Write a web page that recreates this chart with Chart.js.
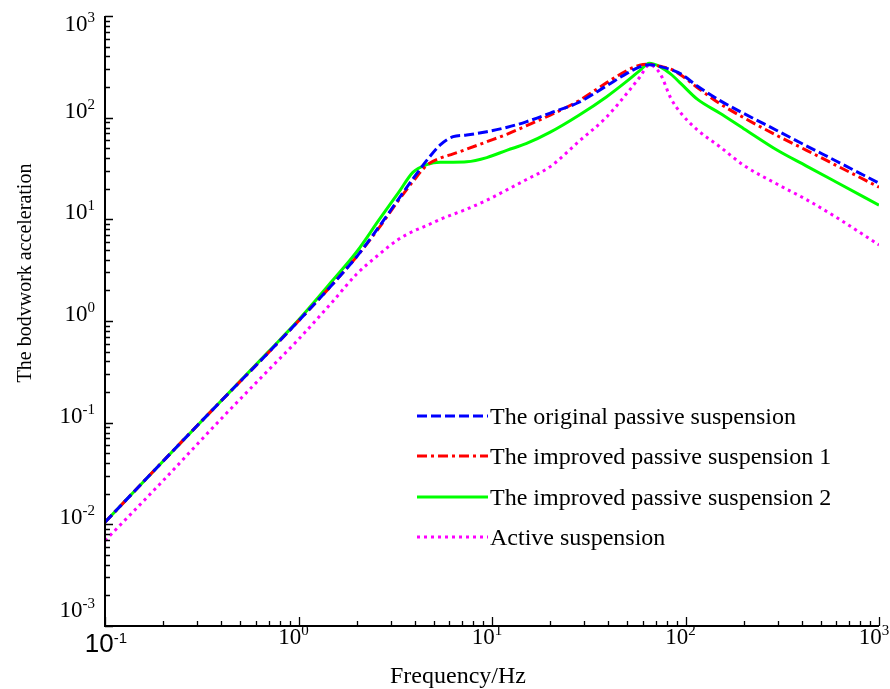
<!DOCTYPE html>
<html>
<head>
<meta charset="utf-8">
<script src="https://cdn.jsdelivr.net/npm/chart.js@4"></script>
<style>
  body { margin: 0; background: #fff; }
  canvas { display: block; }
</style>
</head>
<body>
<canvas id="chart" width="890" height="689"></canvas>
<script>
// frequency grid (Hz) shared by all curves
var freq = [0.1, 0.2, 0.4, 0.7, 1, 1.5, 2, 2.6, 3.3, 3.9, 4.6, 5.4, 6.3, 7.4, 9.4, 12, 15, 20, 28, 39, 50, 58, 65, 74, 84, 95, 115, 150, 200, 300, 420, 600, 1000];

// body acceleration
var originalPassive = [0.0105, 0.042, 0.165, 0.49, 1.0, 2.3, 4.3, 8.4, 16, 25, 38, 54, 65, 67.5, 72.7, 80.5, 91, 111, 141, 205, 274, 316, 332, 318, 297, 268, 205, 148, 110, 74, 53, 37.5, 22.7];
var improvedPassive1 = [0.0105, 0.042, 0.165, 0.49, 1.0, 2.3, 4.3, 8.2, 15.5, 23.5, 34, 40, 44, 49, 58, 69, 83, 106, 146, 220, 292, 328, 336, 320, 300, 262, 198, 138, 100, 66, 48, 34, 20.7];
var improvedPassive2 = [0.0105, 0.042, 0.165, 0.5, 1.02, 2.5, 4.8, 9.8, 18.5, 29, 34.5, 36.5, 36.5, 36.8, 40.5, 48, 55.5, 72, 105, 160, 230, 290, 342, 316, 268, 215, 152, 111, 78, 47.5, 33.6, 23.3, 13.8];
var activeSusp = [0.0069, 0.027, 0.11, 0.33, 0.66, 1.55, 2.9, 4.5, 6.4, 7.6, 8.7, 10, 11.2, 12.6, 15.4, 19.6, 24.5, 33, 58, 101, 175, 250, 330, 270, 155, 110, 76, 52, 34, 22, 15.7, 10.5, 5.6];

var seriesNames = ["The original passive suspension", "The improved passive suspension 1", "The improved passive suspension 2", "Active suspension"];
var seriesColors = ["#0000ff", "#ff0000", "#00ff00", "#ff00ff"];
var seriesDash = [[10, 4], [10, 4, 3, 4], [], [3, 4]];

var xDecades = [-1, 0, 1, 2, 3];
var yDecades = [-3, -2, -1, 0, 1, 2, 3];
var xTitle = "Frequency/Hz";
var yTitle = "The bodvwork acceleration";

function toPoints(arr) {
    return freq.map(function (f, i) { return { x: f, y: arr[i] }; });
}

var allSeries = [originalPassive, improvedPassive1, improvedPassive2, activeSusp];
var datasets = [];
for (var i = 0; i < allSeries.length; i++) {
    datasets.push({
        label: seriesNames[i],
        data: toPoints(allSeries[i]),
        borderColor: seriesColors[i],
        borderDash: seriesDash[i],
        borderWidth: 3,
        pointRadius: 0,
        fill: false,
        cubicInterpolationMode: "monotone"
    });
}

var serif = "'Liberation Serif', 'Times New Roman', serif";
var sans = "'Liberation Sans', Arial, sans-serif";

// draw "10" with a raised exponent
function drawPow(ctx, exp, x, y, align, baseFont, expFont) {
    ctx.font = baseFont;
    var w1 = ctx.measureText("10").width;
    ctx.font = expFont;
    var w2 = ctx.measureText(String(exp)).width;
    var left = x;
    if (align == "right") left = x - w1 - w2;
    if (align == "center") left = x - (w1 + w2) / 2;
    ctx.textAlign = "left";
    ctx.textBaseline = "alphabetic";
    ctx.font = baseFont;
    ctx.fillText("10", left, y);
    ctx.font = expFont;
    ctx.fillText(String(exp), left + w1, y - 9);
}

var axesPlugin = {
    id: "axesPlugin",
    afterDatasetsDraw: function (chart) {
        var ctx = chart.ctx;
        var xs = chart.scales.x, ys = chart.scales.y;
        var area = chart.chartArea;
        ctx.save();
        ctx.strokeStyle = "#000";
        ctx.fillStyle = "#000";

        // axis lines (left and bottom only)
        ctx.lineWidth = 2;
        ctx.beginPath();
        ctx.moveTo(area.left, area.top);
        ctx.lineTo(area.left, area.bottom);
        ctx.lineTo(area.right, area.bottom);
        ctx.stroke();

        // ticks, pointing inward
        ctx.lineWidth = 1.3;
        ctx.beginPath();
        for (var d = 0; d < xDecades.length; d++) {
            var px = Math.round(xs.getPixelForValue(Math.pow(10, xDecades[d]))) + 0.5;
            ctx.moveTo(px, area.bottom);
            ctx.lineTo(px, area.bottom - 9);
            if (d < xDecades.length - 1) {
                for (var m = 2; m <= 9; m++) {
                    var mx = Math.round(xs.getPixelForValue(m * Math.pow(10, xDecades[d]))) + 0.5;
                    ctx.moveTo(mx, area.bottom);
                    ctx.lineTo(mx, area.bottom - 5);
                }
            }
        }
        for (var d = 0; d < yDecades.length; d++) {
            var py = Math.round(ys.getPixelForValue(Math.pow(10, yDecades[d]))) + 0.5;
            ctx.moveTo(area.left, py);
            ctx.lineTo(area.left + 8, py);
            if (d < yDecades.length - 1) {
                for (var m = 2; m <= 9; m++) {
                    var my = Math.round(ys.getPixelForValue(m * Math.pow(10, yDecades[d]))) + 0.5;
                    ctx.moveTo(area.left, my);
                    ctx.lineTo(area.left + 5, my);
                }
            }
        }
        ctx.stroke();

        // y tick labels
        for (var d = 0; d < yDecades.length; d++) {
            var ty = ys.getPixelForValue(Math.pow(10, yDecades[d]));
            ty = Math.min(Math.max(ty, 31), 617);
            drawPow(ctx, yDecades[d], 95, ty, "right", "23px " + serif, "15px " + serif);
        }

        // x tick labels (the first one is in a sans face, as in the picture)
        for (var d = 0; d < xDecades.length; d++) {
            var tx = xs.getPixelForValue(Math.pow(10, xDecades[d]));
            if (d == 0) {
                drawPow(ctx, "-1", tx + 1, area.bottom + 26, "center", "26px " + sans, "15px " + sans);
            } else {
                drawPow(ctx, xDecades[d], Math.min(tx - 5, 874), area.bottom + 18, "center", "23px " + serif, "15px " + serif);
            }
        }

        // axis titles
        ctx.font = "24px " + serif;
        ctx.textAlign = "center";
        ctx.textBaseline = "alphabetic";
        ctx.fillText(xTitle, 458, 683);
        ctx.save();
        ctx.translate(31, 273);
        ctx.rotate(-Math.PI / 2);
        ctx.font = "20px " + serif;
        ctx.fillText(yTitle, 0, 0);
        ctx.restore();

        // legend inside the plot
        var rowY = [416, 456, 497, 537];
        for (var i = 0; i < seriesNames.length; i++) {
            ctx.beginPath();
            ctx.lineWidth = 3;
            ctx.strokeStyle = seriesColors[i];
            ctx.setLineDash(seriesDash[i]);
            ctx.moveTo(417, rowY[i]);
            ctx.lineTo(488, rowY[i]);
            ctx.stroke();
            ctx.setLineDash([]);
            ctx.fillStyle = "#000";
            ctx.font = "24px " + serif;
            ctx.textAlign = "left";
            ctx.fillText(seriesNames[i], 490, rowY[i] + 8);
        }
        ctx.restore();
    }
};

var ctx = document.getElementById("chart").getContext("2d");
var chart = new Chart(ctx, {
    type: "line",
    data: { datasets: datasets },
    options: {
        responsive: false,
        animation: false,
        devicePixelRatio: 1,
        layout: { padding: { left: 105, right: 11, top: 16, bottom: 63 } },
        scales: {
            x: { type: "logarithmic", min: 0.1, max: 1000, display: false },
            y: { type: "logarithmic", min: 0.001, max: 1000, display: false }
        },
        plugins: {
            legend: { display: false },
            tooltip: { enabled: false }
        }
    },
    plugins: [axesPlugin]
});
</script>
</body>
</html>
